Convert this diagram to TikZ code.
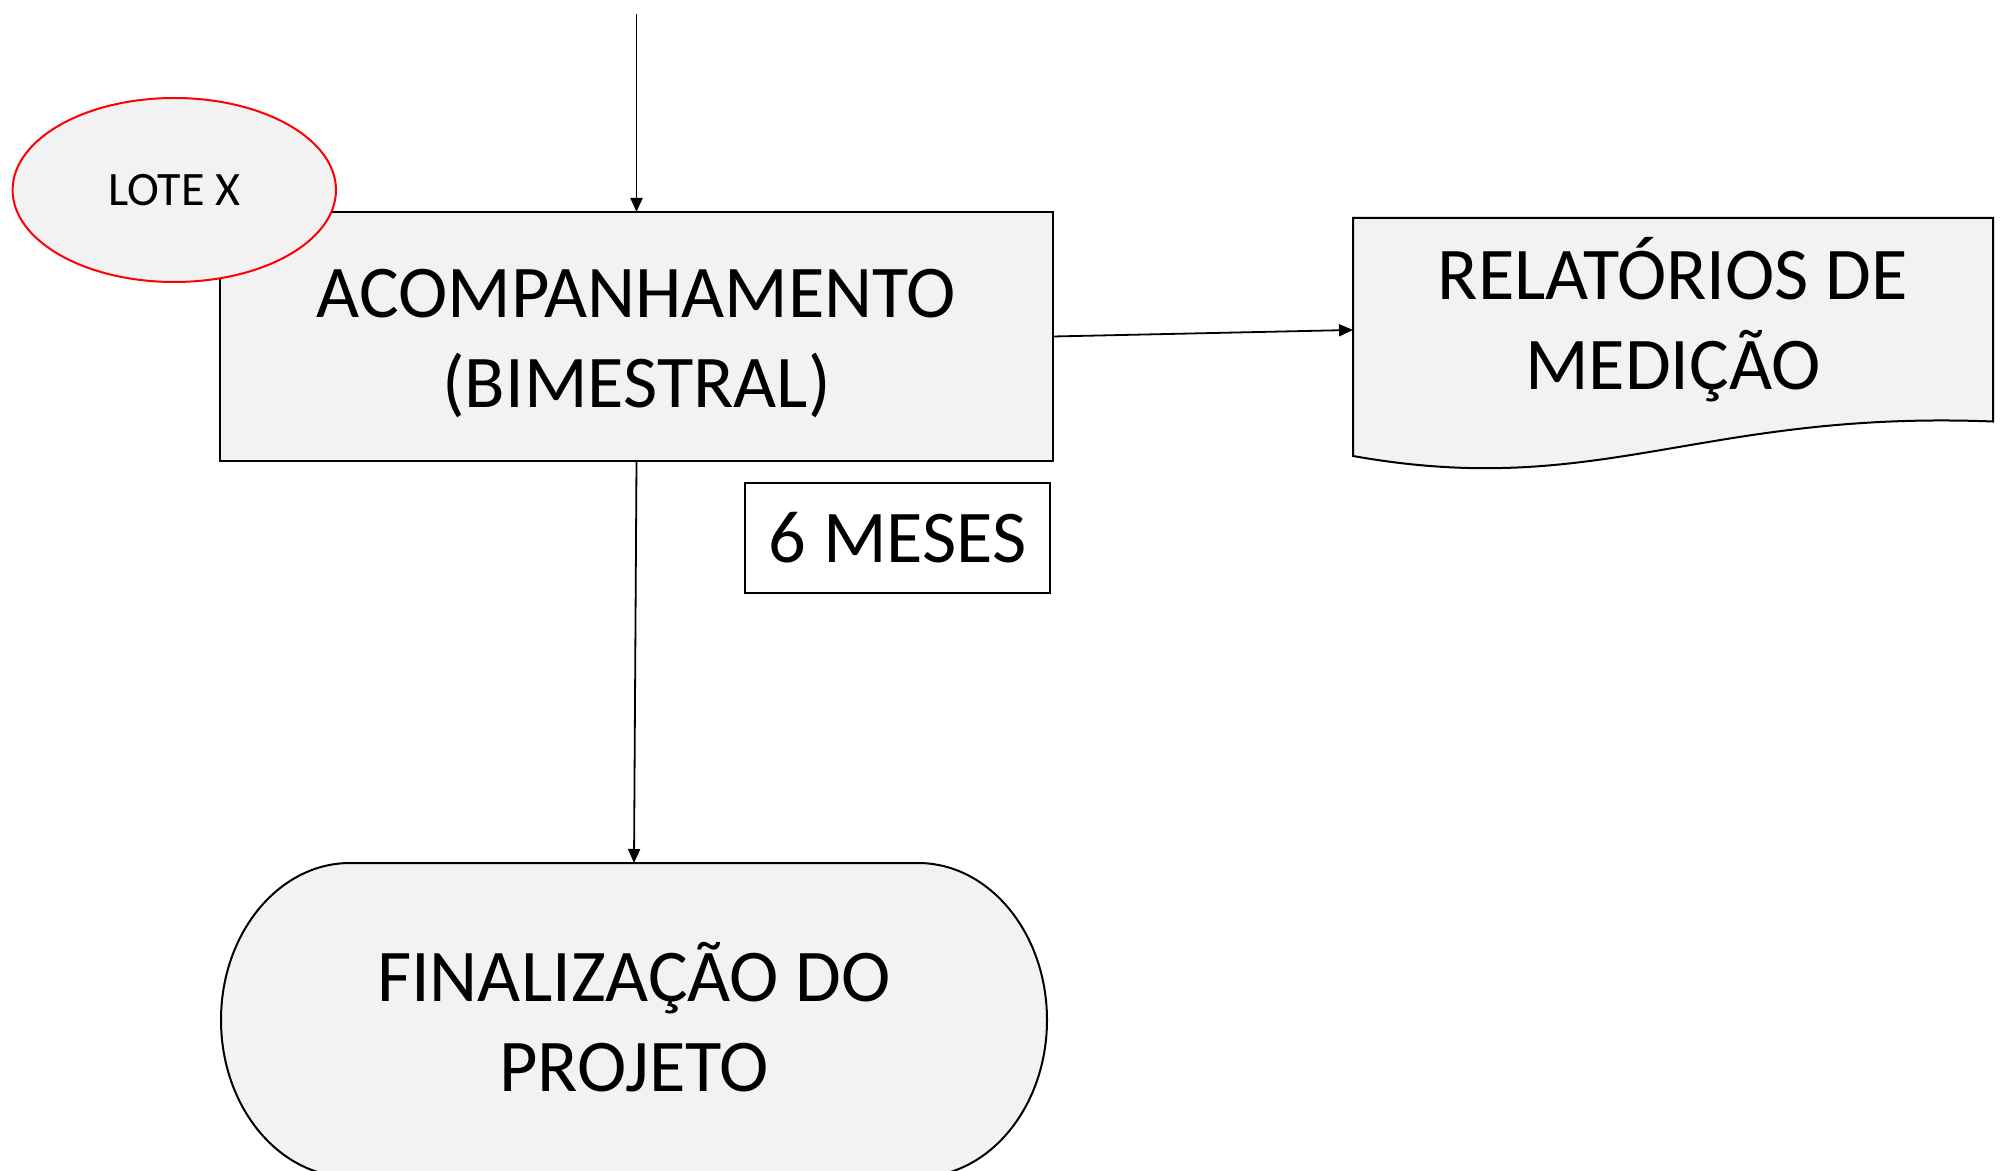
\documentclass[tikz,border=0pt]{standalone}
\usepackage{fontspec}
\setmainfont{Carlito}
\usetikzlibrary{arrows.meta,backgrounds,shapes.geometric}
\definecolor{boxfill}{HTML}{F2F2F2}
\begin{document}
\begin{tikzpicture}[x=0.5pt,y=-0.5pt,
  every node/.style={inner sep=0pt, outer sep=0pt},
  box/.style={draw=black, line width=1pt, fill=boxfill},
  bigtext/.style={font=\fontsize{37.2}{45}\selectfont, align=center},
  arr/.style={draw=black, line width=0.9pt, -{Triangle[length=7pt,width=6pt]}},
]
\useasboundingbox (0,0) rectangle (2009,1171);
\node[box, minimum width=416.5pt, minimum height=124.5pt,
  label={[bigtext, yshift=-3.5pt]center:ACOMPANHAMENTO\\(BIMESTRAL)}] (acomp) at (636.5,336.5) {};
\node[ellipse, draw=red, line width=1pt, fill=boxfill, minimum width=161.7pt, minimum height=92pt, font=\fontsize{24}{28}\selectfont] (lote) at (174.3,190) {LOTE X};
\node[bigtext, minimum width=320pt, minimum height=101.75pt] (doc) at (1673,319.75) {RELATÓRIOS DE\\MEDIÇÃO};
\node[draw=black, line width=1pt, fill=white, bigtext, minimum width=152.5pt, minimum height=55pt] (six) at (897.5,538) {6 MESES};
\node[minimum width=413pt, minimum height=157pt,
  label={[bigtext, yshift=1.5pt]center:FINALIZAÇÃO DO\\PROJETO}] (term) at (634,1020) {};
\begin{scope}[on background layer]
\draw[box] (doc.south east) .. controls (1700,410) and (1600,500) .. (1353,456) -- (doc.north west) -- (doc.north east) -- cycle;
\draw[box] ([xshift=64.5pt]term.north west) -- ([xshift=-64.5pt]term.north east)
  arc[start angle=90,end angle=-90,x radius=64.5pt,y radius=78.5pt]
  -- ([xshift=64.5pt]term.south west)
  arc[start angle=270,end angle=90,x radius=64.5pt,y radius=78.5pt] -- cycle;
\end{scope}
\coordinate (topstart) at (636.5,14);
\draw[arr] (topstart) -- (acomp.north);
\draw[arr] (acomp.east) -- ([yshift=-5.1pt]doc.west);
\draw[arr] (acomp.south) -- (term.north);
\end{tikzpicture}
\end{document}
